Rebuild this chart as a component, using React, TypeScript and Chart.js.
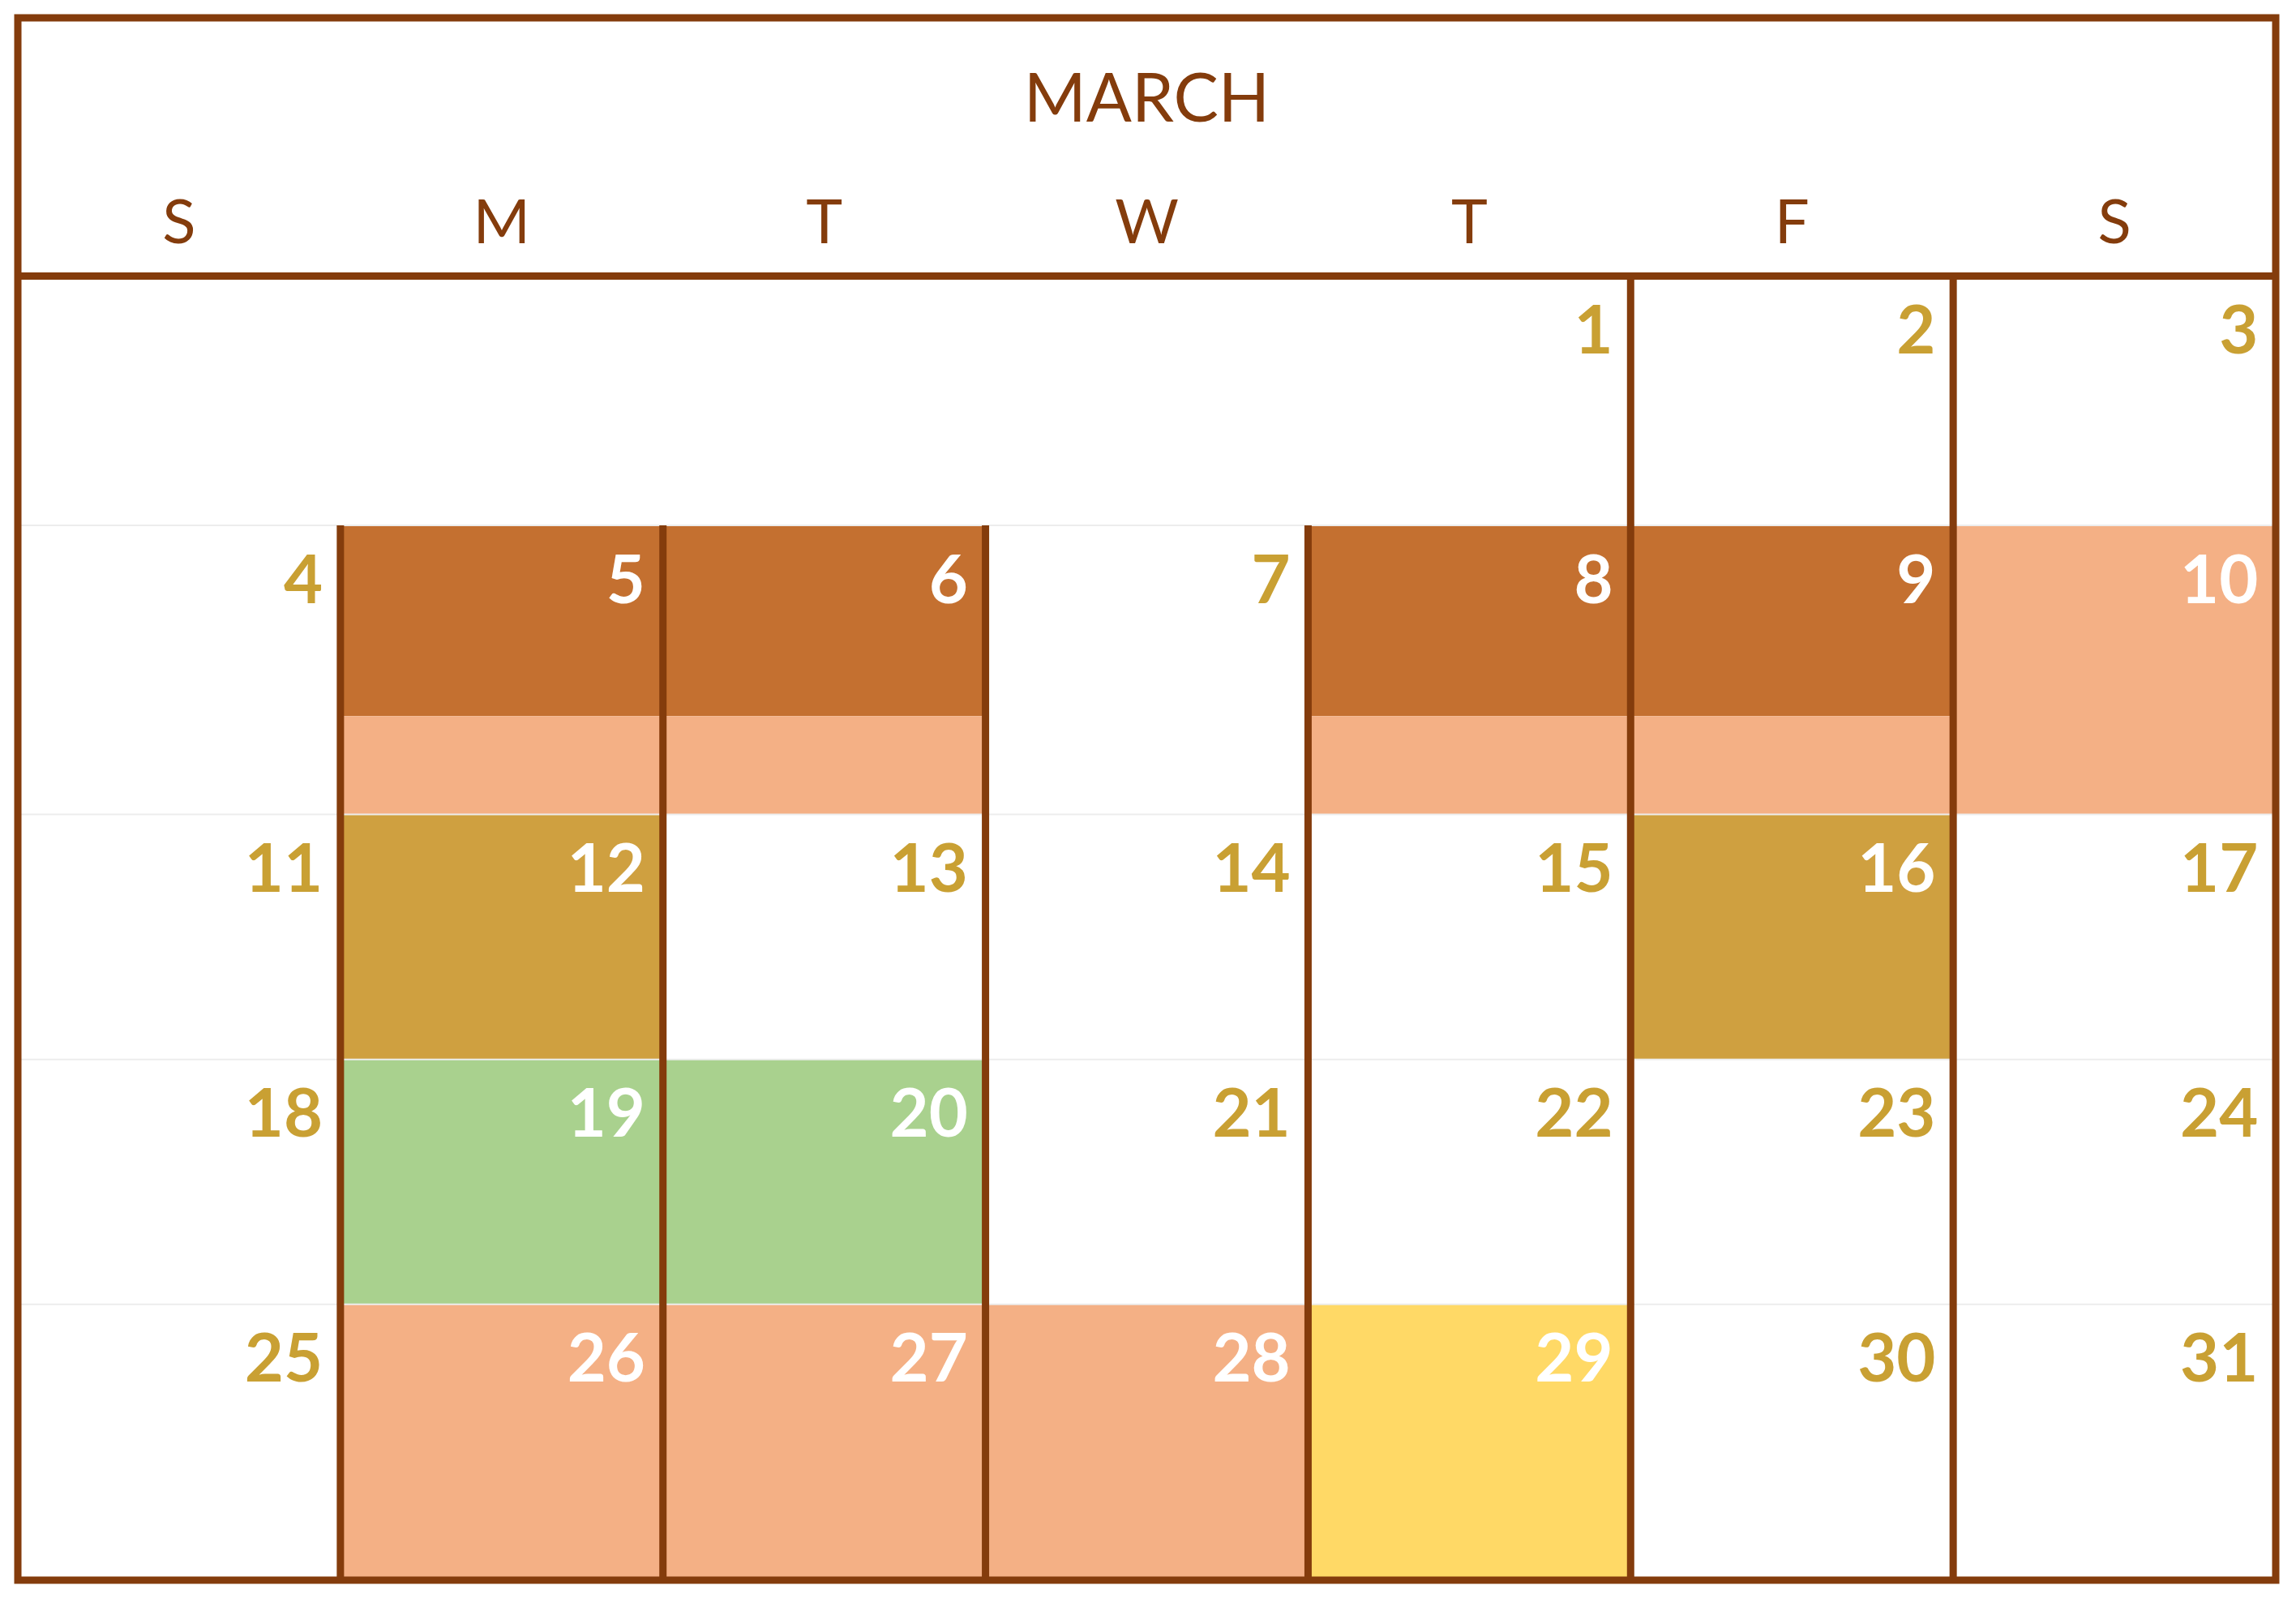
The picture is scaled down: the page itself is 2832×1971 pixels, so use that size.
import React, { useEffect, useRef } from 'react';
import { Chart, registerables, Plugin } from 'chart.js';

Chart.register(...registerables);

const monthTitle = 'MARCH';
const weekdays = ['S', 'M', 'T', 'W', 'T', 'F', 'S'];
// week rows: first day column offset is 4 (Thursday)
const firstWeekday = 4;
const daysInMonth = 31;
// row edges on the y scale (0 = top of frame)
const headerBottom = 176;
const rowEdges = [176, 346, 543, 710, 877, 1065];
const splitRow2 = 476;

// filled cells: [day, colour, top, bottom]  (top/bottom on the y scale)
const DARK = '#C47030';
const SALMON = '#F4B085';
const GOLD = '#CFA040';
const GREEN = '#A9D18E';
const YELLOW = '#FFD966';
const fills: [number, string, number, number][] = [
  [5, DARK, 346, 476], [6, DARK, 346, 476], [8, DARK, 346, 476], [9, DARK, 346, 476],
  [5, SALMON, 476, 543], [6, SALMON, 476, 543], [8, SALMON, 476, 543], [9, SALMON, 476, 543],
  [10, SALMON, 346, 543],
  [12, GOLD, 543, 710], [16, GOLD, 543, 710],
  [19, GREEN, 710, 877], [20, GREEN, 710, 877],
  [26, SALMON, 877, 1065], [27, SALMON, 877, 1065], [28, SALMON, 877, 1065], [29, YELLOW, 877, 1065],
];
// thick vertical separators: [column edge, top]
const vLines: [number, number][] = [[1, 346], [2, 346], [3, 346], [4, 346], [5, 176], [6, 176]];

const BROWN = '#843C0C';
const NUM_GOLD = '#C9A033';
const K = 1.81;

const cellOf = (day: number) => {
  const idx = day - 1 + firstWeekday;
  return { col: idx % 7, row: Math.floor(idx / 7) };
};

const calendarPlugin: Plugin = {
  id: 'calendar',
  afterDraw(chart) {
    const { ctx } = chart;
    const xs = chart.scales.x;
    const ys = chart.scales.y;
    const X = (v: number) => xs.getPixelForValue(v);
    const Y = (v: number) => ys.getPixelForValue(v);
    ctx.save();
    // fills
    fills.forEach(([day, color, t, b]) => {
      const { col } = cellOf(day);
      ctx.fillStyle = color;
      ctx.fillRect(X(col), Y(t), X(col + 1) - X(col), Y(b) - Y(t));
    });
    // faint row lines
    ctx.strokeStyle = '#EDEDED';
    ctx.lineWidth = 2;
    rowEdges.slice(1, -1).forEach((r) => {
      ctx.beginPath();
      ctx.moveTo(X(0), Y(r));
      ctx.lineTo(X(7), Y(r));
      ctx.stroke();
    });
    // brown lines
    ctx.strokeStyle = BROWN;
    ctx.lineWidth = 9;
    vLines.forEach(([c, top]) => {
      ctx.beginPath();
      ctx.moveTo(X(c), Y(top));
      ctx.lineTo(X(c), Y(1065));
      ctx.stroke();
    });
    ctx.beginPath();
    ctx.moveTo(X(0), Y(headerBottom));
    ctx.lineTo(X(7), Y(headerBottom));
    ctx.stroke();
    ctx.strokeRect(X(0), Y(0), X(7) - X(0), Y(1065) - Y(0));
    // title and weekdays
    ctx.fillStyle = BROWN;
    ctx.textAlign = 'center';
    ctx.textBaseline = 'middle';
    ctx.font = `${Math.round(46 * K)}px Lato, "Open Sans", sans-serif`;
    ctx.fillText(monthTitle, X(3.5), Y(56));
    ctx.font = `${Math.round(42 * K)}px Lato, "Open Sans", sans-serif`;
    weekdays.forEach((w, i) => ctx.fillText(w, X(i + 0.5), Y(140)));
    // day numbers
    ctx.textAlign = 'right';
    ctx.font = `bold ${Math.round(46 * K)}px Lato, "Open Sans", sans-serif`;
    for (let d = 1; d <= daysInMonth; d++) {
      const { col, row } = cellOf(d);
      const filled = fills.some(([fd, , t]) => fd === d && t === rowEdges[row]);
      ctx.fillStyle = filled ? '#FFFFFF' : NUM_GOLD;
      ctx.fillText(String(d), X(col + 1) - 12 * K, Y(rowEdges[row]) + 38 * K);
    }
    ctx.restore();
  },
};

const App: React.FC = () => {
  const ref = useRef<HTMLCanvasElement | null>(null);
  useEffect(() => {
    const ctx = ref.current?.getContext('2d');
    if (!ctx) return;
    const chart = new Chart(ctx, {
      type: 'scatter',
      data: { datasets: [{ data: [] }] },
      options: {
        animation: false,
        responsive: false,
        devicePixelRatio: 1,
        layout: { padding: { left: 14, right: 17, top: 14, bottom: 14 } },
        plugins: { legend: { display: false }, tooltip: { enabled: false } },
        scales: {
          x: { type: 'linear', min: 0, max: 7, display: false },
          y: { type: 'linear', min: 0, max: 1065, reverse: true, display: false },
        },
      },
      plugins: [calendarPlugin],
    });
    return () => chart.destroy();
  }, []);
  return <canvas ref={ref} width={2816} height={1955} style={{ display: 'block' }} />;
};

export default App;
